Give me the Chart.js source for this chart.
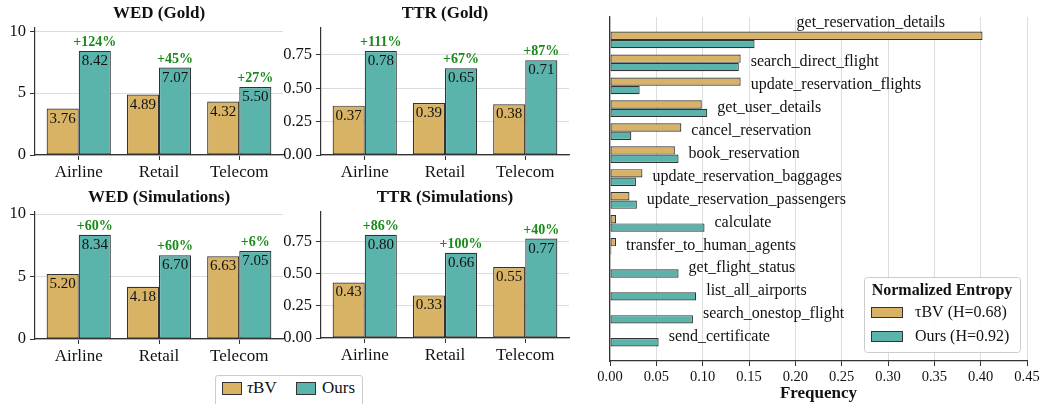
<!DOCTYPE html>
<html>
<head>
<meta charset="utf-8">
<script src="https://cdn.jsdelivr.net/npm/chart.js@4.4.0/dist/chart.umd.min.js"></script>
<style>
  html, body { margin: 0; padding: 0; background: #fff; }
  #wrap { position: relative; width: 1042px; height: 404px; overflow: hidden;
          font-family: 'Liberation Serif', 'Times New Roman', serif; }
  #wrap canvas { position: absolute; }
  #legend { position: absolute; left: 215px; top: 375px; width: 148px; height: 40px;
            border: 1px solid #ccc; border-radius: 3px; box-sizing: border-box; background: #fff; }
  #legend .sw { position: absolute; top: 6px; width: 18px; height: 11px; border: 1px solid #333; }
  #legend .lt { position: absolute; top: 2px; font-size: 17px; line-height: 20px; color: #111; }
</style>
</head>
<body>
<div id="wrap">
  <canvas id="wedGold"></canvas>
  <canvas id="ttrGold"></canvas>
  <canvas id="wedSim"></canvas>
  <canvas id="ttrSim"></canvas>
  <canvas id="tools"></canvas>
  <div id="legend">
    <span class="sw" style="left:6px;background:#d8b365"></span><span class="lt" style="left:31px"><i>τ</i>BV</span>
    <span class="sw" style="left:80px;background:#5ab4ac"></span><span class="lt" style="left:106px">Ours</span>
  </div>
</div>
<script>
const domains = ['Airline', 'Retail', 'Telecom'];

const wedGoldTbv = [3.76, 4.89, 4.32];
const wedGoldOurs = [8.42, 7.07, 5.50];
const wedGoldGain = ['+124%', '+45%', '+27%'];

const ttrGoldTbv = [0.37, 0.39, 0.38];
const ttrGoldOurs = [0.78, 0.65, 0.71];
const ttrGoldGain = ['+111%', '+67%', '+87%'];

const wedSimTbv = [5.20, 4.18, 6.63];
const wedSimOurs = [8.34, 6.70, 7.05];
const wedSimGain = ['+60%', '+60%', '+6%'];

const ttrSimTbv = [0.43, 0.33, 0.55];
const ttrSimOurs = [0.80, 0.66, 0.77];
const ttrSimGain = ['+86%', '+100%', '+40%'];

const tools = ['get_reservation_details', 'search_direct_flight', 'update_reservation_flights',
  'get_user_details', 'cancel_reservation', 'book_reservation', 'update_reservation_baggages',
  'update_reservation_passengers', 'calculate', 'transfer_to_human_agents', 'get_flight_status',
  'list_all_airports', 'search_onestop_flight', 'send_certificate'];
const toolFreqTbv = [0.402, 0.141, 0.141, 0.099, 0.077, 0.070, 0.035, 0.021, 0.0065, 0.0065, 0, 0, 0, 0];
const toolFreqOurs = [0.156, 0.139, 0.032, 0.105, 0.023, 0.074, 0.028, 0.029, 0.102, 0.0015, 0.074, 0.093, 0.0895, 0.0525];
const entropyLabels = ['τBV (H=0.68)', 'Ours (H=0.92)'];

const SERIF = "'Liberation Serif', 'Times New Roman', serif";
const GOLD = '#d8b365';
const TEAL = '#5ab4ac';
const EDGE = '#333';
const GREEN = '#1a8a1a';
const TEXT = '#111';

// value + gain labels and the panel title
const barLabels = {
  id: 'barLabels',
  afterDatasetsDraw(chart, args, opts) {
    const ctx = chart.ctx;
    const a = chart.chartArea;
    ctx.save();
    ctx.textAlign = 'center';
    ctx.textBaseline = 'alphabetic';
    ctx.fillStyle = TEXT;
    ctx.font = '15px ' + SERIF;
    chart.data.datasets.forEach((ds, di) => {
      chart.getDatasetMeta(di).data.forEach((bar, i) => {
        ctx.fillText(ds.data[i].y.toFixed(2), bar.x, bar.y + 14);
      });
    });
    ctx.fillStyle = GREEN;
    ctx.font = 'bold 14px ' + SERIF;
    chart.getDatasetMeta(1).data.forEach((bar, i) => {
      ctx.fillText(opts.gains[i], bar.x, bar.y - 5);
    });
    ctx.fillStyle = TEXT;
    ctx.font = 'bold 17px ' + SERIF;
    ctx.textBaseline = 'middle';
    ctx.fillText(opts.title, (a.left + a.right) / 2, a.top - 14);
    ctx.restore();
  }
};

function place(cv, x, y, w, h) {
  cv.width = w;
  cv.height = h;
  cv.style.left = x + 'px';
  cv.style.top = y + 'px';
}

function smallChart(id, pos, plot, title, tbv, ours, gains, yMax, yStep, digits) {
  const cv = document.getElementById(id);
  place(cv, pos.x, pos.y, pos.w, pos.h);
  const bar = { borderColor: EDGE, borderWidth: 1.2, borderSkipped: false };
  return new Chart(cv, {
    type: 'bar',
    data: {
      datasets: [
        { label: 'τBV', data: tbv.map((v, i) => ({ x: i, y: v })), backgroundColor: GOLD, ...bar },
        { label: 'Ours', data: ours.map((v, i) => ({ x: i, y: v })), backgroundColor: TEAL, ...bar }
      ]
    },
    options: {
      responsive: false,
      animation: false,
      layout: { padding: { top: plot.top - pos.y, right: pos.x + pos.w - plot.right, left: 0, bottom: 0 } },
      datasets: { bar: { categoryPercentage: 0.8, barPercentage: 1 } },
      plugins: {
        legend: { display: false },
        tooltip: { enabled: false },
        barLabels: { title: title, gains: gains }
      },
      scales: {
        x: {
          type: 'linear', min: -0.545, max: 2.545, offset: false,
          ticks: {
            stepSize: 1, includeBounds: false, maxRotation: 0, autoSkip: false,
            callback: v => Number.isInteger(v) ? domains[v] : '',
            font: { family: SERIF, size: 17 }, color: TEXT, padding: 2
          },
          grid: { drawOnChartArea: false, offset: false, tickColor: EDGE, tickLength: 5 },
          border: { color: EDGE, width: 1.2 },
          afterFit: s => { s.height = pos.y + pos.h - plot.bottom; }
        },
        y: {
          min: 0, max: yMax,
          ticks: {
            stepSize: yStep, includeBounds: false,
            callback: v => v.toFixed(digits),
            font: { family: SERIF, size: 16.5 }, color: TEXT, padding: 4
          },
          grid: { color: '#dddddd', tickColor: EDGE, tickLength: 5 },
          border: { color: EDGE, width: 1.2 },
          afterFit: s => { s.width = plot.left - pos.x; }
        }
      }
    },
    plugins: [barLabels]
  });
}

smallChart('wedGold', { x: 0, y: 0, w: 300, h: 190 }, { left: 35, top: 28, right: 283, bottom: 155 },
  'WED (Gold)', wedGoldTbv, wedGoldOurs, wedGoldGain, 10.27, 5, 0);
smallChart('ttrGold', { x: 270, y: 0, w: 320, h: 190 }, { left: 321, top: 28, right: 569, bottom: 155 },
  'TTR (Gold)', ttrGoldTbv, ttrGoldOurs, ttrGoldGain, 0.952, 0.25, 2);
smallChart('wedSim', { x: 0, y: 185, w: 300, h: 185 }, { left: 35, top: 212, right: 283, bottom: 339 },
  'WED (Simulations)', wedSimTbv, wedSimOurs, wedSimGain, 10.17, 5, 0);
smallChart('ttrSim', { x: 270, y: 185, w: 320, h: 185 }, { left: 321, top: 212, right: 569, bottom: 338 },
  'TTR (Simulations)', ttrSimTbv, ttrSimOurs, ttrSimGain, 0.976, 0.25, 2);

// tool names next to the bars, and the entropy legend
const toolLabels = {
  id: 'toolLabels',
  afterDatasetsDraw(chart) {
    const ctx = chart.ctx;
    const xs = chart.scales.x, ys = chart.scales.y;
    const a = chart.chartArea;
    ctx.save();
    ctx.font = '16px ' + SERIF;
    ctx.fillStyle = TEXT;
    ctx.textBaseline = 'middle';
    tools.forEach((name, i) => {
      const yc = ys.getPixelForValue(i + 1);
      const m = Math.max(toolFreqTbv[i], toolFreqOurs[i]);
      const x = xs.getPixelForValue(m) + 10;
      if (x + ctx.measureText(name).width > a.right - 10) {
        ctx.textAlign = 'center';
        ctx.fillText(name, xs.getPixelForValue(m * 0.7), yc - 17);
      } else {
        ctx.textAlign = 'left';
        ctx.fillText(name, x, yc - 1);
      }
    });

    // legend box
    const bw = 156, bh = 75;
    const bx = a.right - 7 - bw, by = a.bottom - 9 - bh;
    ctx.beginPath();
    ctx.roundRect(bx + 0.5, by + 0.5, bw, bh, 3);
    ctx.fillStyle = 'rgba(255,255,255,0.85)';
    ctx.fill();
    ctx.strokeStyle = '#cccccc';
    ctx.lineWidth = 1;
    ctx.stroke();
    ctx.fillStyle = TEXT;
    ctx.textAlign = 'center';
    ctx.font = 'bold 16px ' + SERIF;
    ctx.fillText('Normalized Entropy', bx + bw / 2, by + 14);
    ctx.font = '16px ' + SERIF;
    ctx.textAlign = 'left';
    [GOLD, TEAL].forEach((c, k) => {
      const sy = by + 30 + k * 24;
      ctx.fillStyle = c;
      ctx.fillRect(bx + 7, sy, 32, 11);
      ctx.strokeStyle = EDGE;
      ctx.strokeRect(bx + 7.5, sy + 0.5, 31, 10);
      ctx.fillStyle = TEXT;
      ctx.fillText(entropyLabels[k], bx + 51, sy + 6);
    });
    ctx.restore();
  }
};

const cvTools = document.getElementById('tools');
place(cvTools, 590, 0, 452, 404);
new Chart(cvTools, {
  type: 'bar',
  data: {
    labels: ['', ...tools, ''],
    datasets: [
      { label: entropyLabels[0], data: [null, ...toolFreqTbv, null], backgroundColor: GOLD,
        borderColor: EDGE, borderWidth: 1.2, borderSkipped: false },
      { label: entropyLabels[1], data: [null, ...toolFreqOurs, null], backgroundColor: TEAL,
        borderColor: EDGE, borderWidth: 1.2, borderSkipped: false }
    ]
  },
  options: {
    indexAxis: 'y',
    responsive: false,
    animation: false,
    layout: { padding: { top: 17, right: 15, left: 0, bottom: 0 } },
    datasets: { bar: { categoryPercentage: 0.73, barPercentage: 1 } },
    plugins: { legend: { display: false }, tooltip: { enabled: false } },
    scales: {
      y: {
        type: 'category', offset: false,
        ticks: { display: false },
        grid: { display: false },
        border: { color: EDGE, width: 1.2 },
        afterFit: s => { s.width = 20; }
      },
      x: {
        type: 'linear', min: 0, max: 0.45,
        ticks: {
          stepSize: 0.05, callback: v => v.toFixed(2),
          font: { family: SERIF, size: 14.5 }, color: TEXT, padding: 2
        },
        grid: { color: '#dddddd', tickColor: EDGE, tickLength: 5 },
        border: { color: EDGE, width: 1.2 },
        title: { display: true, text: 'Frequency', font: { family: SERIF, size: 17, weight: 'bold' },
                 color: TEXT, padding: 0 },
        afterFit: s => { s.height = 43; }
      }
    }
  },
  plugins: [toolLabels]
});
</script>
</body>
</html>
